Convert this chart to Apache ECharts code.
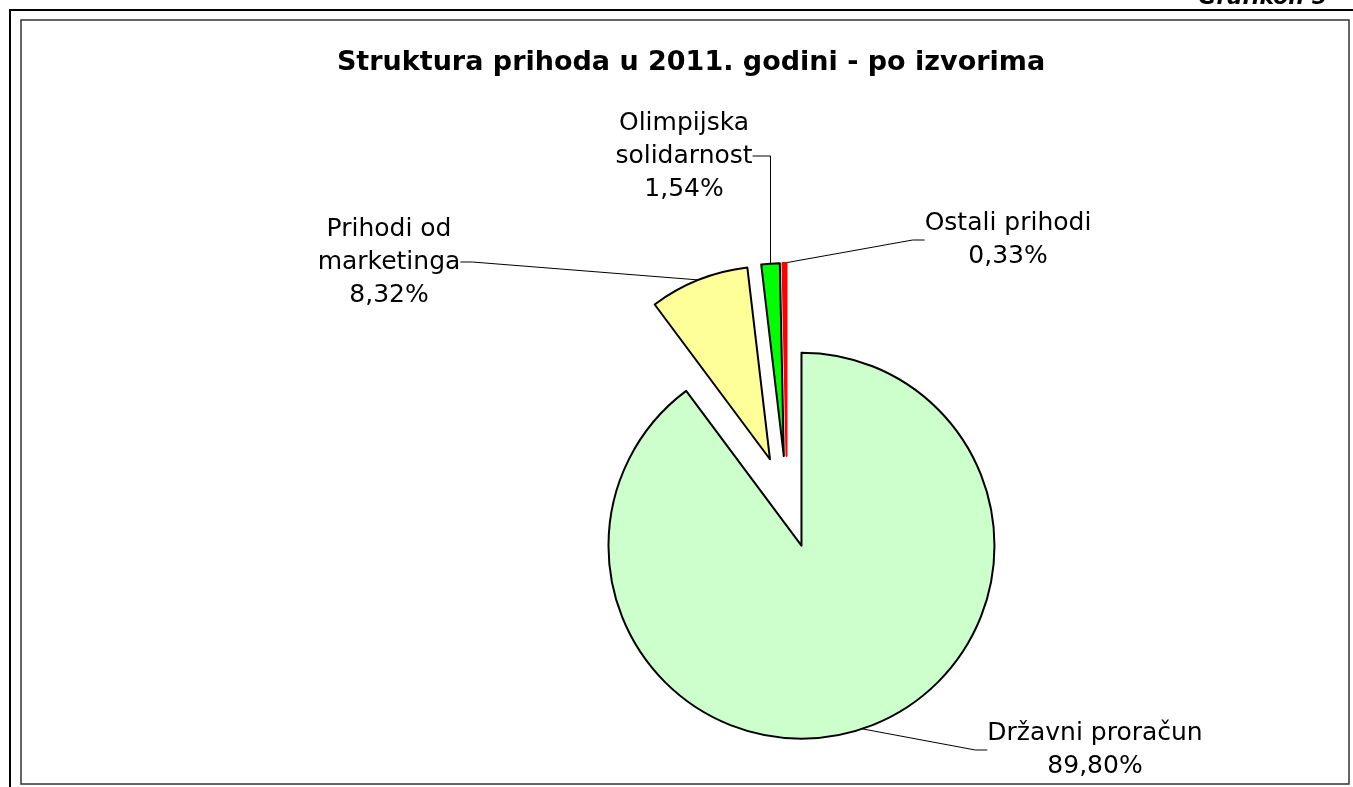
<!DOCTYPE html>
<html>
<head>
<meta charset="utf-8">
<script src="https://cdn.jsdelivr.net/npm/echarts@6/dist/echarts.min.js"></script>
<style>
  html, body { margin: 0; padding: 0; background: #fff; }
  #chart { width: 1353px; height: 787px; }
</style>
</head>
<body>
<div id="chart"></div>
<script>
// izvori prihoda, redom kao u Excelu (od 12 sati, u smjeru kazaljke)
const categories = ["Državni proračun", "Prihodi od marketinga", "Olimpijska solidarnost", "Ostali prihodi"];
const labelNames = ["Državni proračun", "Prihodi od\nmarketinga", "Olimpijska\nsolidarnost", "Ostali prihodi"];
const shares = [89.80, 8.32, 1.54, 0.33];

const colors = ["#CCFFCC", "#FFFF99", "#00FF00", "#FF0000"];
const borders = ["#000", "#000", "#000", "#FF0000"];
// gdje stoje natpisi (sredina bloka teksta)
const labelPos = [[1095, 750], [389, 262], [684, 156], [1008, 240]];

const pieCenter = [787, 502];
const pieRadius = 193;
const explode = 46;
const leaderStub = 12;

const myChart = echarts.init(document.getElementById("chart"));

const fmt = (v) => v.toFixed(2).replace(".", ",") + "%";

// linija kao u Excelu: od sredine luka do boka natpisa, s kratkim vodoravnim krajem
function leader(params) {
    const i = params.dataIndex;
    const w = params.labelRect.width;
    const [lx, ly] = labelPos[i];
    const arc = params.labelLinePoints ? params.labelLinePoints[0] : null;
    const layout = {
        x: lx,
        y: ly,
        align: "center",
        verticalAlign: "middle"
    };
    if (arc) {
        const toRight = arc[0] > lx;
        const edge = toRight ? lx + w / 2 : lx - w / 2;
        let stub = toRight ? edge + leaderStub : edge - leaderStub;
        // luk je skoro ispod natpisa -> lomi liniju tocno iznad njega
        if (Math.abs(arc[0] - edge) < 30) stub = arc[0];
        layout.labelLinePoints = [[arc[0], arc[1]], [stub, ly], [edge, ly]];
    }
    return layout;
}

// svaki isjecak je svoj pie (isti podaci), pomaknut od sredine kao "explode" u Excelu
const total = shares.reduce((a, b) => a + b, 0);
let cum = 0;
const pieSeries = shares.map((v, i) => {
    const mid = 2 * Math.PI * (cum + v / 2) / total;
    cum += v;
    return {
        type: "pie",
        center: [pieCenter[0] + explode * Math.sin(mid), pieCenter[1] - explode * Math.cos(mid)],
        radius: pieRadius,
        startAngle: 90,
        clockwise: true,
        avoidLabelOverlap: false,
        emphasis: { disabled: true },
        silent: true,
        z: i === 0 ? 2 : 3,
        data: shares.map((w, j) => ({
            name: categories[j],
            value: w,
            itemStyle: j === i
                ? { color: colors[j], borderColor: borders[j], borderWidth: 2 }
                : { color: "none", borderWidth: 0 },
            label: { show: j === i },
            labelLine: { show: j === i }
        })),
        label: {
            position: "outside",
            formatter: (p) => labelNames[p.dataIndex] + "\n" + fmt(shares[p.dataIndex]),
            fontFamily: "DejaVu Sans",
            fontSize: 25,
            lineHeight: 33,
            color: "#000"
        },
        labelLine: {
            length: 10,
            length2: leaderStub,
            lineStyle: { color: "#000", width: 1 }
        },
        labelLayout: leader
    };
});

const option = {
    animation: false,
    backgroundColor: "#fff",
    title: {
        text: "Struktura prihoda u 2011. godini - po izvorima",
        left: 686,
        textAlign: "center",
        top: 44,
        textStyle: {
            fontFamily: "DejaVu Sans",
            fontWeight: "bold",
            fontSize: 27,
            color: "#000"
        }
    },
    graphic: [
        {
            type: "polyline",
            shape: { points: [[10, 787], [10, 10], [1353, 10]] },
            style: { stroke: "#000", lineWidth: 2, fill: null }
        },
        {
            type: "rect",
            shape: { x: 21, y: 20, width: 1328, height: 764 },
            style: { stroke: "#333", lineWidth: 1.5, fill: null }
        },
        {
            type: "text",
            x: 1327,
            y: 9,
            style: {
                text: "Grafikon 5",
                align: "right",
                verticalAlign: "bottom",
                fontFamily: "DejaVu Sans",
                fontWeight: "bold",
                fontStyle: "italic",
                fontSize: 22,
                fill: "#000"
            }
        }
    ],
    series: pieSeries
};

myChart.setOption(option, true);
</script>
</body>
</html>
